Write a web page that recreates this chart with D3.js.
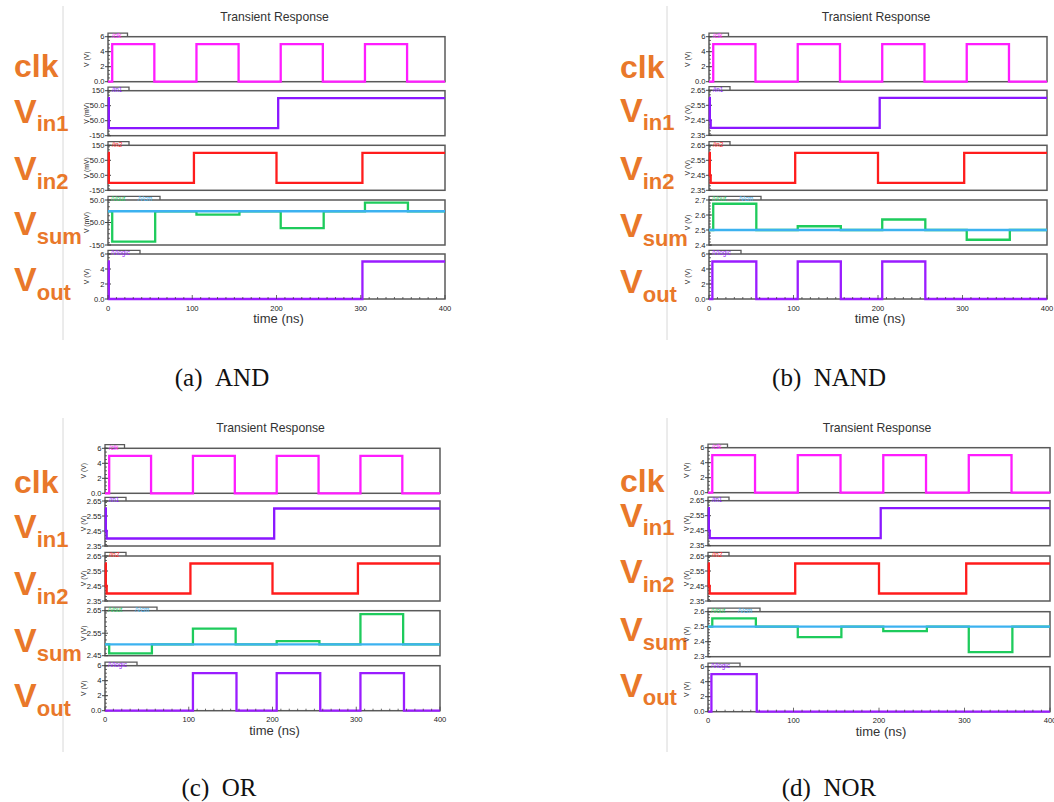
<!DOCTYPE html>
<html>
<head>
<meta charset="utf-8">
<script src="https://cdn.jsdelivr.net/npm/d3@7"></script>
<style>
  body { margin: 0; background: #fff; }
  svg { display: block; }
</style>
</head>
<body>
<svg id="fig" width="1054" height="802"></svg>
<script>
// time axis (ns)
const timeTicks = [0, 100, 200, 300, 400];

// y tick labels
const clkTicks = [0, 2, 4, 6];
const mvTicks = [-150, -50, 50, 150];
const andSumTicks = [-150, -50, 50];
const inTicks = [2.35, 2.45, 2.55, 2.65];
const nandSumTicks = [2.4, 2.5, 2.6, 2.7];
const orSumTicks = [2.45, 2.55, 2.65];
const norSumTicks = [2.3, 2.4, 2.5, 2.6];

// clock, same in all four runs: [time ns, V]
const clkSteps = [[0, 0], [5, 5], [55, 0], [105, 5], [155, 0], [205, 5], [255, 0], [305, 5], [355, 0], [400, 0]];

// (a) AND, mV
const andIn1 = [[0, 100], [1, -100], [202, 100], [400, 100]];
const andIn2 = [[0, 100], [1, -100], [102, 100], [200, -100], [302, 100], [400, 100]];
const andVout = [[0, 0], [5, -135], [56, 0], [105, -15], [156, 0], [205, -75], [256, 0], [305, 38], [356, 0], [400, 0]];
const andVcm = [[0, 0], [400, 0]];
const andLogic = [[0, 5], [1, 0], [302, 5], [400, 5]];

// (b) NAND, V
const nandIn1 = [[0, 2.6], [1, 2.45], [2, 2.4], [202, 2.6], [400, 2.6]];
const nandIn2 = [[0, 2.6], [1, 2.45], [2, 2.4], [102, 2.6], [200, 2.4], [302, 2.6], [400, 2.6]];
const nandVout = [[0, 2.5], [5, 2.675], [56, 2.5], [105, 2.525], [156, 2.5], [205, 2.57], [256, 2.5], [305, 2.435], [356, 2.5], [400, 2.5]];
const nandVcm = [[0, 2.5], [400, 2.5]];
const nandLogic = [[0, 0], [4, 5], [56, 0], [105, 5], [156, 0], [205, 5], [256, 0], [400, 0]];

// (c) OR, V
const orIn1 = [[0, 2.6], [1, 2.45], [2, 2.4], [202, 2.6], [400, 2.6]];
const orIn2 = [[0, 2.6], [1, 2.45], [2, 2.4], [102, 2.6], [200, 2.4], [302, 2.6], [400, 2.6]];
const orVout = [[0, 2.5], [5, 2.46], [56, 2.5], [105, 2.57], [156, 2.5], [205, 2.515], [256, 2.5], [305, 2.635], [356, 2.5], [400, 2.5]];
const orVcm = [[0, 2.5], [400, 2.5]];
const orLogic = [[0, 0], [105, 5], [157, 0], [205, 5], [257, 0], [305, 5], [357, 0], [400, 0]];

// (d) NOR, V
const norIn1 = [[0, 2.6], [1, 2.45], [2, 2.4], [202, 2.6], [400, 2.6]];
const norIn2 = [[0, 2.6], [1, 2.45], [2, 2.4], [102, 2.6], [200, 2.4], [302, 2.6], [400, 2.6]];
const norVout = [[0, 2.5], [5, 2.555], [56, 2.5], [105, 2.43], [156, 2.5], [205, 2.47], [256, 2.5], [305, 2.33], [356, 2.5], [400, 2.5]];
const norVcm = [[0, 2.5], [400, 2.5]];
const norLogic = [[0, 0], [4, 5], [57, 0], [400, 0]];

const panels = [
  { key: "a", caption: "(a)\u00a0\u00a0AND", unit: "mV", in1: andIn1, in2: andIn2, vout: andVout, vcm: andVcm, logic: andLogic,
    inDomain: [-150, 150], inTicks: mvTicks, sumDomain: [-150, 50], sumTicks: andSumTicks },
  { key: "b", caption: "(b)\u00a0\u00a0NAND", unit: "V", in1: nandIn1, in2: nandIn2, vout: nandVout, vcm: nandVcm, logic: nandLogic,
    inDomain: [2.35, 2.65], inTicks: inTicks, sumDomain: [2.4, 2.7], sumTicks: nandSumTicks },
  { key: "c", caption: "(c)\u00a0\u00a0OR", unit: "V", in1: orIn1, in2: orIn2, vout: orVout, vcm: orVcm, logic: orLogic,
    inDomain: [2.35, 2.65], inTicks: inTicks, sumDomain: [2.45, 2.65], sumTicks: orSumTicks },
  { key: "d", caption: "(d)\u00a0\u00a0NOR", unit: "V", in1: norIn1, in2: norIn2, vout: norVout, vcm: norVcm, logic: norLogic,
    inDomain: [2.35, 2.65], inTicks: inTicks, sumDomain: [2.3, 2.6], sumTicks: norSumTicks },
];

// where each sub-figure sits on the page
const layout = {
  a: { x0: 108, x1: 445, tops: [36.7, 90.7, 145.3, 200, 254], labX: 14, vx: 63, vy: [6, 340], base: [77.3, 122.7, 180, 235, 291], capX: 222, capY: 386 },
  b: { x0: 709, x1: 1047, tops: [36.7, 90.3, 145.3, 200, 254], labX: 620, vx: 667, vy: [6, 340], base: [78.3, 121.5, 180, 237.3, 293.3], capX: 829, capY: 386 },
  c: { x0: 105, x1: 440, tops: [448.3, 501, 556, 610.7, 665.7], labX: 14, vx: 63, vy: [418, 752], base: [493.3, 538, 595, 652, 707], capX: 219, capY: 796 },
  d: { x0: 708, x1: 1050, tops: [447.7, 500.7, 556, 611.7, 666.7], labX: 620, vx: 667, vy: [418, 752], base: [491.7, 526.7, 583.3, 641, 696.7], capX: 829, capY: 796 },
};

const rowH = 45;
const orange = "#E9782A";
const colors = { clk: "#ff1cff", in1: "#8a17ff", in2: "#ff1c1c", vout: "#1ecb5c", vcm: "#3cb2f0", logic: "#9a1cff" };
const sans = "'Liberation Sans', Arial, sans-serif";

const svg = d3.select("#fig");

function fmt(v) {
  if (v === 0) return "0.0";
  if (Math.abs(v) === 150) return String(v);
  if (Math.abs(v) === 50) return v.toFixed(1);
  if (v > 2 && v < 3) return String(+v.toFixed(2));
  return String(v);
}

function drawPanel(p) {
  const L = layout[p.key];
  const g = svg.append("g");
  const x = d3.scaleLinear().domain([0, 400]).range([L.x0, L.x1]);

  // faint rule left of the plot
  g.append("line")
    .attr("x1", L.vx).attr("x2", L.vx)
    .attr("y1", L.vy[0]).attr("y2", L.vy[1])
    .attr("stroke", "#d8d8d8").attr("stroke-width", 1);

  g.append("text")
    .attr("x", (L.x0 + L.x1) / 2 - 2)
    .attr("y", L.tops[0] - 16)
    .attr("text-anchor", "middle")
    .attr("font-family", sans).attr("font-size", 12.2)
    .attr("fill", "#333")
    .text("Transient Response");

  const rows = [
    { label: "clk", domain: [0, 6], ticks: clkTicks, unit: "V", tab: 19.5,
      series: [{ data: clkSteps, color: colors.clk, name: "/clk", dx: 4 }] },
    { label: "V", sub: "in1", domain: p.inDomain, ticks: p.inTicks, unit: p.unit, tab: 21,
      series: [{ data: p.in1, color: colors.in1, name: "/in1", dx: 4 }] },
    { label: "V", sub: "in2", domain: p.inDomain, ticks: p.inTicks, unit: p.unit, tab: 21,
      series: [{ data: p.in2, color: colors.in2, name: "/in2", dx: 4 }] },
    { label: "V", sub: "sum", domain: p.sumDomain, ticks: p.sumTicks, unit: p.unit, tab: 52,
      series: [{ data: p.vout, color: colors.vout, name: "/Vout", dx: 3 },
               { data: p.vcm, color: colors.vcm, name: "/Vcm", dx: 30 }] },
    { label: "V", sub: "out", domain: [0, 6], ticks: clkTicks, unit: "V", tab: 32,
      series: [{ data: p.logic, color: colors.logic, name: "/Vlogic", dx: 3 }] },
  ];

  rows.forEach((r, ri) => {
    const top = L.tops[ri];
    const bot = top + rowH;
    const y = d3.scaleLinear().domain(r.domain).range([bot, top]);
    const row = g.append("g");

    // orange row label
    const lab = row.append("text")
      .attr("x", L.labX).attr("y", L.base[ri])
      .attr("font-family", sans).attr("font-weight", "bold")
      .attr("fill", orange);
    if (r.sub) {
      lab.append("tspan").attr("font-size", 34).text(r.label);
      lab.append("tspan").attr("font-size", 22).attr("dy", 8.5).text(r.sub);
    } else {
      lab.attr("font-size", 32).text(r.label);
    }

    // tab above the box
    row.append("path")
      .attr("d", `M${L.x0},${top} V${top - 3.6} H${L.x0 + r.tab} V${top}`)
      .attr("fill", "#fff").attr("stroke", "#5a5a5a").attr("stroke-width", 1.3);

    // box
    row.append("rect")
      .attr("x", L.x0).attr("y", top)
      .attr("width", L.x1 - L.x0).attr("height", rowH)
      .attr("fill", "none").attr("stroke", "#5a5a5a").attr("stroke-width", 1.5);

    r.series.forEach(s => {
      row.append("text")
        .attr("x", L.x0 + s.dx).attr("y", top + 1.2)
        .attr("font-family", sans).attr("font-size", 6.3)
        .attr("fill", s.color)
        .text(s.name);
    });

    // y ticks
    const minor = y.ticks(12);
    row.selectAll(".mi").data(minor).join("line")
      .attr("x1", L.x0).attr("x2", L.x0 + 2)
      .attr("y1", d => y(d)).attr("y2", d => y(d))
      .attr("stroke", "#444").attr("stroke-width", 0.8);
    row.selectAll(".ma").data(r.ticks).join("line")
      .attr("x1", L.x0 - 3).attr("x2", L.x0 + 3)
      .attr("y1", d => y(d)).attr("y2", d => y(d))
      .attr("stroke", "#444").attr("stroke-width", 1);
    row.selectAll(".tl").data(r.ticks).join("text")
      .attr("x", L.x0 - 3.5).attr("y", d => y(d) + 2.6)
      .attr("text-anchor", "end")
      .attr("font-family", sans).attr("font-size", 7.6)
      .attr("fill", "#222")
      .text(fmt);

    row.append("text")
      .attr("transform", `translate(${L.x0 - 19},${top + rowH / 2}) rotate(-90)`)
      .attr("text-anchor", "middle")
      .attr("font-family", sans).attr("font-size", 6.8)
      .attr("fill", "#222")
      .text(`V (${r.unit})`);

    // signals
    const clipId = `clip-${p.key}-${ri}`;
    row.append("clipPath").attr("id", clipId)
      .append("rect")
      .attr("x", L.x0 - 2).attr("y", top - 2)
      .attr("width", L.x1 - L.x0 + 2).attr("height", rowH + 4);
    const line = d3.line()
      .x(d => x(d[0]))
      .y(d => y(d[1]))
      .curve(d3.curveStepAfter);
    r.series.forEach(s => {
      row.append("path")
        .attr("d", line(s.data))
        .attr("clip-path", `url(#${clipId})`)
        .attr("fill", "none")
        .attr("stroke", s.color)
        .attr("stroke-width", 2.3)
        .attr("stroke-linejoin", "miter");
    });

    // time axis under the last row
    if (ri === rows.length - 1) {
      const minorT = d3.range(0, 401, 10);
      row.selectAll(".xt").data(minorT).join("line")
        .attr("x1", d => x(d)).attr("x2", d => x(d))
        .attr("y1", bot).attr("y2", d => bot - (d % 100 === 0 ? 4 : 2))
        .attr("stroke", "#444").attr("stroke-width", 0.8);
      row.selectAll(".xl").data(timeTicks).join("text")
        .attr("x", d => x(d)).attr("y", bot + 11.5)
        .attr("text-anchor", "middle")
        .attr("font-family", sans).attr("font-size", 7.6)
        .attr("fill", "#222")
        .text(d => d);
      row.append("text")
        .attr("x", (L.x0 + L.x1) / 2 + 2).attr("y", bot + 24)
        .attr("text-anchor", "middle")
        .attr("font-family", sans).attr("font-size", 13)
        .attr("fill", "#333")
        .text("time (ns)");
    }
  });

  // caption
  g.append("text")
    .attr("x", L.capX).attr("y", L.capY)
    .attr("text-anchor", "middle")
    .attr("font-family", "'Liberation Serif', 'Times New Roman', serif")
    .attr("font-size", 25)
    .attr("fill", "#111")
    .text(p.caption);
}

panels.forEach(drawPanel);
</script>
</body>
</html>
